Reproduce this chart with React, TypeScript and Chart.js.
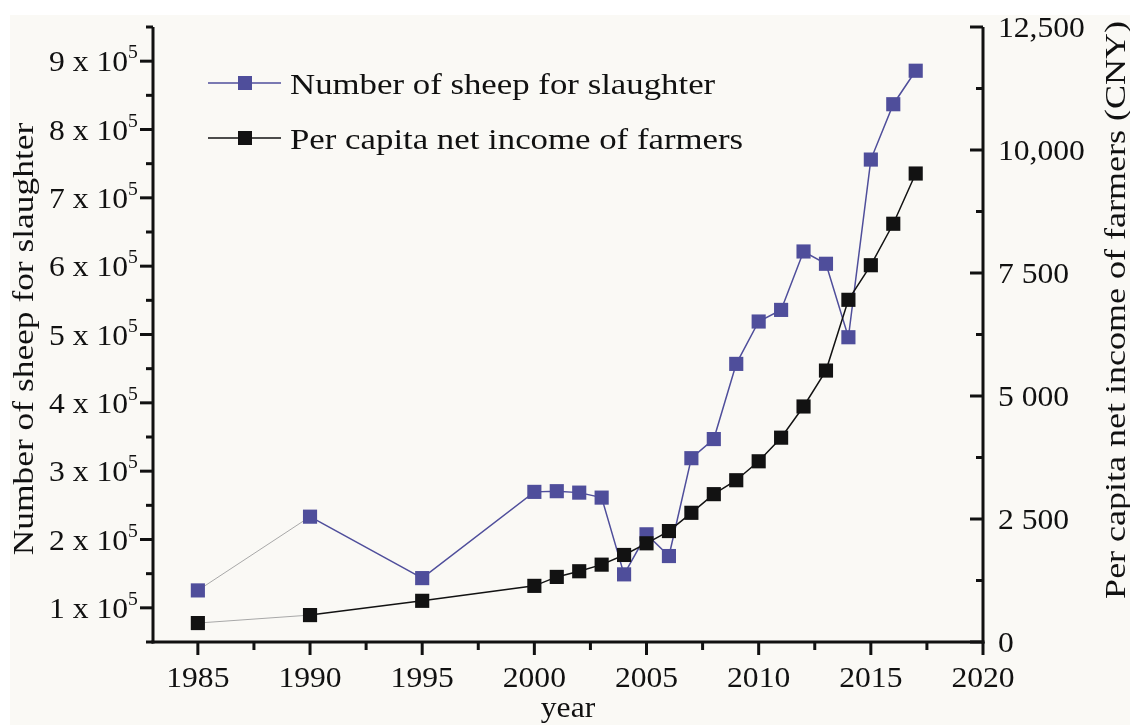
import React, { useEffect, useRef } from "react";
import { Chart, registerables } from "chart.js";

Chart.register(...registerables);

// ---- data ----
const years = [1985, 1990, 1995, 2000, 2001, 2002, 2003, 2004, 2005, 2006, 2007, 2008, 2009, 2010, 2011, 2012, 2013, 2014, 2015, 2016, 2017];
const sheepValues = [125500, 233400, 143500, 269700, 270700, 268600, 261300, 149000, 207600, 175800, 319000, 347000, 457000, 519000, 536000, 621500, 603500, 496000, 756000, 837000, 886000];
const incomeValues = [385, 547, 837, 1141, 1323, 1438, 1572, 1769, 2006, 2255, 2626, 3005, 3288, 3673, 4153, 4787, 5517, 6955, 7658, 8501, 9522];

const xTicks = [1985, 1990, 1995, 2000, 2005, 2010, 2015, 2020];
const xMinorTicks = [1987.5, 1992.5, 1997.5, 2002.5, 2007.5, 2012.5, 2017.5];
const sheepTicks = [100000, 200000, 300000, 400000, 500000, 600000, 700000, 800000, 900000];
const sheepTickMantissa = ["1", "2", "3", "4", "5", "6", "7", "8", "9"];
const sheepMinorTicks = [50000, 150000, 250000, 350000, 450000, 550000, 650000, 750000, 850000, 950000];
const incomeTicks = [0, 2500, 5000, 7500, 10000, 12500];
const incomeTickLabels = ["0", "2 500", "5 000", "7 500", "10,000", "12,500"];
const incomeMinorTicks = [1250, 3750, 6250, 8750, 11250];

const sheepLabel = "Number of sheep for slaughter";
const incomeLabel = "Per capita net income of farmers";
const xTitle = "year";
const leftTitle = "Number of sheep for slaughter";
const rightTitle = "Per capita net income of farmers (CNY)";

const SHEEP_COLOR = "#4f4e9b";
const INCOME_COLOR = "#121212";
const FADE_COLOR = "#a8a8a8";
const AXIS_COLOR = "#111111";
const FONT = '"Liberation Serif", "Times New Roman", serif';

function drawText(ctx: CanvasRenderingContext2D, text: string, x: number, y: number, align: CanvasTextAlign, size: number, sx: number, rot = 0) {
  ctx.save();
  ctx.translate(x, y);
  if (rot) ctx.rotate(rot);
  ctx.scale(sx, 1);
  ctx.font = `${size}px ${FONT}`;
  ctx.textAlign = align;
  ctx.textBaseline = "alphabetic";
  ctx.fillStyle = "#111";
  ctx.fillText(text, 0, 0);
  ctx.restore();
}

const axesPlugin = {
  id: "customAxes",
  afterDraw(chart: any) {
    const ctx: CanvasRenderingContext2D = chart.ctx;
    const { left, right, top, bottom } = chart.chartArea;
    const xs = chart.scales.x;
    const yl = chart.scales.ySheep;
    const yr = chart.scales.yIncome;
    ctx.save();
    ctx.strokeStyle = AXIS_COLOR;
    ctx.lineWidth = 3;
    ctx.lineCap = "butt";
    const line = (x1: number, y1: number, x2: number, y2: number) => {
      ctx.beginPath();
      ctx.moveTo(x1, y1);
      ctx.lineTo(x2, y2);
      ctx.stroke();
    };
    // axis lines
    line(left, top, left, bottom + 1.5);
    line(left - 1.5, bottom, right + 1.5, bottom);
    line(right, top, right, bottom + 1.5);
    // left ticks
    sheepTicks.forEach((v) => { const y = yl.getPixelForValue(v); line(left - 13, y, left, y); });
    sheepMinorTicks.forEach((v) => { const y = yl.getPixelForValue(v); line(left - 7, y, left, y); });
    // right ticks (inward)
    incomeTicks.forEach((v) => { const y = yr.getPixelForValue(v); line(right - 13, y, right, y); });
    incomeMinorTicks.forEach((v) => { const y = yr.getPixelForValue(v); line(right - 7, y, right, y); });
    // x ticks
    xTicks.forEach((v) => { const x = xs.getPixelForValue(v); line(x, bottom, x, bottom + 13); });
    xMinorTicks.forEach((v) => { const x = xs.getPixelForValue(v); line(x, bottom, x, bottom + 8); });

    const TS = 29;
    const TSX = 1.09;
    // x labels
    xTicks.forEach((v) => {
      drawText(ctx, String(v), xs.getPixelForValue(v), bottom + 45, "center", TS, TSX);
    });
    drawText(ctx, xTitle, (left + right) / 2, 717, "center", TS, TSX);

    // left labels with superscript
    sheepTicks.forEach((v, i) => {
      const y = yl.getPixelForValue(v);
      const main = `${sheepTickMantissa[i]} x 10`;
      drawText(ctx, main, 128, y + 10, "right", TS, TSX);
      drawText(ctx, "5", 128, y - 3, "left", 18, TSX);
    });
    // right labels
    incomeTicks.forEach((v, i) => {
      const y = yr.getPixelForValue(v);
      drawText(ctx, incomeTickLabels[i], 998, y + 10, "left", TS, TSX);
    });

    // titles
    drawText(ctx, leftTitle, 33, 339, "center", 30, 1.18, -Math.PI / 2);
    drawText(ctx, rightTitle, 1125, 310, "center", 30, 1.2, -Math.PI / 2);

    // legend
    const items = [
      { label: sheepLabel, color: SHEEP_COLOR, y: 83 },
      { label: incomeLabel, color: INCOME_COLOR, y: 138 },
    ];
    items.forEach((it) => {
      ctx.strokeStyle = it.color;
      ctx.lineWidth = 1.5;
      line(208, it.y, 281, it.y);
      ctx.fillStyle = it.color;
      ctx.fillRect(245 - 7, it.y - 7, 14, 14);
      drawText(ctx, it.label, 290, it.y + 10.5, "left", 30, 1.16);
    });
    ctx.restore();
  },
};

export default function App() {
  const canvasRef = useRef<HTMLCanvasElement | null>(null);

  useEffect(() => {
    if (!canvasRef.current) return;
    const fade = (color: string) => (c: any) => (c.p0DataIndex === 0 ? FADE_COLOR : color);
    const fadeW = (w: number) => (c: any) => (c.p0DataIndex === 0 ? 1 : w);
    const chart = new Chart(canvasRef.current, {
      type: "line",
      data: {
        datasets: [
          {
            label: sheepLabel,
            data: years.map((y, i) => ({ x: y, y: sheepValues[i] })),
            yAxisID: "ySheep",
            borderColor: SHEEP_COLOR,
            backgroundColor: SHEEP_COLOR,
            borderWidth: 1.5,
            pointStyle: "rect",
            pointRadius: 10,
            pointBorderWidth: 0,
            pointBackgroundColor: SHEEP_COLOR,
            order: 2,
            segment: { borderColor: fade(SHEEP_COLOR), borderWidth: fadeW(1.5) },
          },
          {
            label: incomeLabel,
            data: years.map((y, i) => ({ x: y, y: incomeValues[i] })),
            yAxisID: "yIncome",
            borderColor: INCOME_COLOR,
            backgroundColor: INCOME_COLOR,
            borderWidth: 1.5,
            pointStyle: "rect",
            pointRadius: 10,
            pointBorderWidth: 0,
            pointBackgroundColor: INCOME_COLOR,
            order: 1,
            segment: { borderColor: fade(INCOME_COLOR), borderWidth: fadeW(1.5) },
          },
        ],
      },
      options: {
        responsive: false,
        animation: false,
        devicePixelRatio: 1,
        layout: { padding: { top: 27, left: 0, right: 0, bottom: 0 } },
        plugins: { legend: { display: false }, tooltip: { enabled: false } },
        scales: {
          x: {
            type: "linear",
            min: 1983,
            max: 2020,
            afterBuildTicks: (s: any) => { s.ticks = xTicks.map((v) => ({ value: v })); },
            ticks: { display: false },
            grid: { display: false },
            border: { display: false },
            afterFit: (s: any) => { s.height = 83; },
          },
          ySheep: {
            type: "linear",
            position: "left",
            min: 50000,
            max: 950000,
            afterBuildTicks: (s: any) => { s.ticks = sheepTicks.map((v) => ({ value: v })); },
            ticks: { display: false },
            grid: { display: false },
            border: { display: false },
            afterFit: (s: any) => { s.width = 153; },
          },
          yIncome: {
            type: "linear",
            position: "right",
            min: 0,
            max: 12500,
            afterBuildTicks: (s: any) => { s.ticks = incomeTicks.map((v) => ({ value: v })); },
            ticks: { display: false },
            grid: { display: false },
            border: { display: false },
            afterFit: (s: any) => { s.width = 147; },
          },
        },
      } as any,
      plugins: [axesPlugin],
    });
    return () => chart.destroy();
  }, []);

  return (
    <div style={{ position: "absolute", left: 0, top: 0, width: 1130, height: 725, background: "#ffffff", overflow: "hidden" }}>
      <div style={{ position: "absolute", left: 10, top: 15, right: 0, bottom: 0, background: "#faf9f5" }} />
      <canvas ref={canvasRef} width={1130} height={725} style={{ position: "absolute", left: 0, top: 0 }} />
    </div>
  );
}
